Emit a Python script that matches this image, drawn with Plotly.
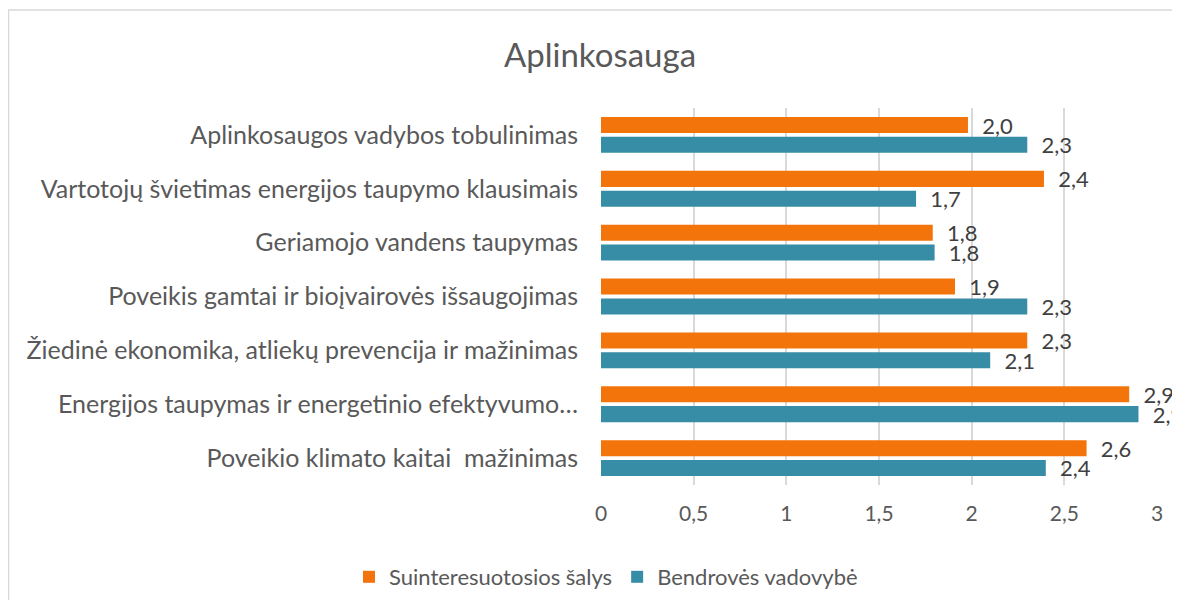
import plotly.graph_objects as go

categories = [
    "Poveikio klimato kaitai  mažinimas",
    "Energijos taupymas ir energetinio efektyvumo…",
    "Žiedinė ekonomika, atliekų prevencija ir mažinimas",
    "Poveikis gamtai ir bioįvairovės išsaugojimas",
    "Geriamojo vandens taupymas",
    "Vartotojų švietimas energijos taupymo klausimais",
    "Aplinkosaugos vadybos tobulinimas",
]

suinteresuotosios = [2.62, 2.85, 2.30, 1.91, 1.79, 2.39, 1.98]
vadovybe = [2.40, 2.90, 2.10, 2.30, 1.80, 1.70, 2.30]

x_ticks = [0, 0.5, 1, 1.5, 2, 2.5, 3]

grey = "#595959"
orange = "#F2740B"
teal = "#378DA6"
font_family = "Lato, 'Open Sans', sans-serif"

W, H = 1180, 592
L, R, T, B = 593, 31, 100, 115
pw, ph = W - L - R, H - T - B

label_font = dict(size=22, color="#404040", family=font_family)

fig = go.Figure()
fig.add_trace(go.Bar(
    y=categories, x=vadovybe, orientation="h", name="Bendrovės vadovybė",
    marker=dict(color=teal, line=dict(width=0)), legendrank=2,
    texttemplate="\u00a0\u00a0%{x:.1f}", textposition="outside", cliponaxis=False,
    constraintext="none", textfont=label_font,
))
fig.add_trace(go.Bar(
    y=categories, x=suinteresuotosios, orientation="h", name="Suinteresuotosios šalys",
    marker=dict(color=orange, line=dict(width=0)), legendrank=1,
    texttemplate="\u00a0\u00a0%{x:.1f}", textposition="outside", cliponaxis=False,
    constraintext="none", textfont=label_font,
))

fig.update_layout(
    width=W, height=H,
    separators=", ",
    paper_bgcolor="white", plot_bgcolor="white",
    font=dict(family=font_family, color=grey, size=20),
    title=dict(text="Aplinkosauga", xref="container", x=592 / W, xanchor="center",
               yref="container", y=1 - 47 / H, yanchor="middle",
               font=dict(size=33, color=grey, family=font_family)),
    barmode="group", bargap=0.265, bargroupgap=0.19,
    margin=dict(l=L, r=R, t=T, b=B, autoexpand=False),
    xaxis=dict(range=[0, 3], tickvals=x_ticks, showgrid=True, gridcolor="#D9D9D9", gridwidth=1.5,
               zeroline=False, showline=False, ticks="", ticklabelstandoff=14,
               tickfont=dict(size=21, color=grey), fixedrange=True),
    yaxis=dict(showgrid=False, showline=False, ticks="", ticklabelstandoff=22,
               tickfont=dict(size=25, color=grey)),
    legend=dict(orientation="h", xref="container", x=598 / W, xanchor="center",
                yref="container", y=1 - 569 / H, yanchor="middle",
                font=dict(size=22, color=grey)),
    showlegend=True,
    shapes=[dict(type="rect", xref="paper", yref="paper",
                 x0=-L / pw + 0.5 / pw, x1=1 + (R + 20) / pw,
                 y0=-(B + 20) / ph, y1=1 + (T - 2) / ph,
                 line=dict(color="#D9D9D9", width=1.5), fillcolor="rgba(0,0,0,0)", layer="below")],
)

fig.write_html("out.html")
